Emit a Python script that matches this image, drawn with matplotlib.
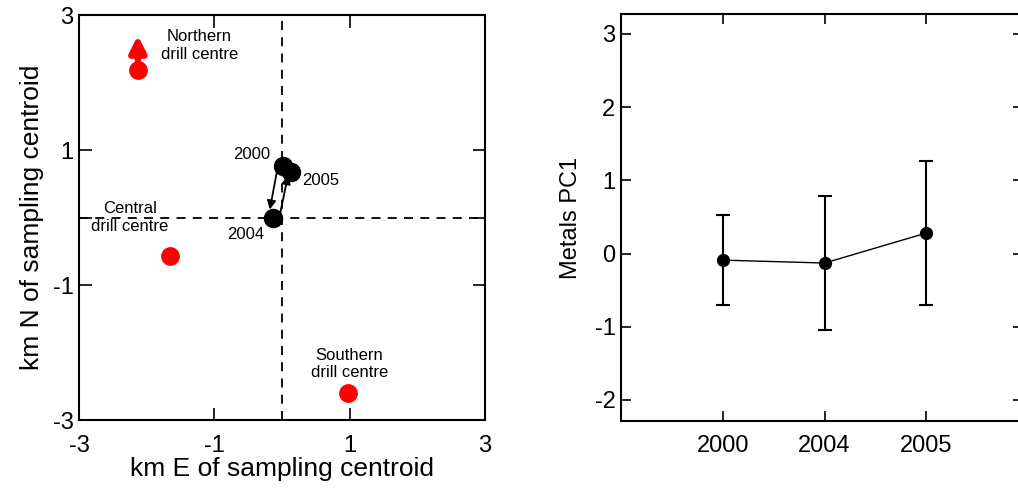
import matplotlib.pyplot as plt

plt.rcParams['font.family'] = ['Liberation Sans', 'DejaVu Sans']
plt.rcParams['axes.unicode_minus'] = False

# left panel: sampling centroid positions (km)
years = ['2000', '2004', '2005']
cent_x = [0.01, -0.13, 0.14]
cent_y = [0.76, 0.0, 0.68]

drill_names = ['Northern\ndrill centre', 'Central\ndrill centre', 'Southern\ndrill centre']
drill_x = [-2.13, -1.66, 0.98]
drill_y = [2.19, -0.57, -2.60]
north_arrow_top = 2.70

# right panel: metals PC1 mean with range
pc1_mean = [-0.09, -0.13, 0.28]
pc1_low = [-0.70, -1.04, -0.71]
pc1_high = [0.53, 0.79, 1.27]

fig = plt.figure(figsize=(10.18, 4.88), dpi=100)
ax1 = fig.add_axes([0.0776, 0.139, 0.3988, 0.830])
ax2 = fig.add_axes([0.610, 0.137, 0.395, 0.834])

# --- left panel
ax1.axvline(0, color='black', ls=(0, (5, 4)), lw=1.3, zorder=1)
ax1.axhline(0, color='black', ls=(0, (5, 4)), lw=1.3, zorder=1)
ax1.plot(drill_x, drill_y, 'o', color='#ff0000', ms=12.5, zorder=3)
ax1.annotate('', xy=(drill_x[0], north_arrow_top), xytext=(drill_x[0], drill_y[0]),
             arrowprops=dict(arrowstyle='-|>', color='#ff0000', lw=4.5,
                             mutation_scale=24, shrinkA=0, shrinkB=0), zorder=3)
ax1.plot(cent_x, cent_y, 'o', color='black', ms=13, zorder=4)
# movement between years
ax1.annotate('', xy=(cent_x[1] - 0.05, cent_y[1] + 0.12), xytext=(cent_x[0] - 0.08, cent_y[0] - 0.05),
             arrowprops=dict(arrowstyle='-|>', color='black', lw=1.3, mutation_scale=13,
                             shrinkA=0, shrinkB=0), zorder=5)
ax1.annotate('', xy=(cent_x[2] - 0.05, cent_y[2] - 0.05), xytext=(cent_x[1] + 0.08, cent_y[1] - 0.05),
             arrowprops=dict(arrowstyle='-|>', color='black', lw=1.3, mutation_scale=13,
                             shrinkA=0, shrinkB=0), zorder=5)

ax1.text(-1.22, 2.55, drill_names[0], ha='center', va='center', fontsize=12)
ax1.text(-2.25, 0.0, drill_names[1], ha='center', va='center', fontsize=12)
ax1.text(1.0, -2.17, drill_names[2], ha='center', va='center', fontsize=12)
ax1.text(-0.45, 0.93, years[0], ha='center', va='center', fontsize=12)
ax1.text(0.57, 0.55, years[2], ha='center', va='center', fontsize=12)
ax1.text(-0.53, -0.25, years[1], ha='center', va='center', fontsize=12)

ax1.set_xlim(-3, 3)
ax1.set_ylim(-3, 3)
ax1.set_xticks([-3, -1, 1, 3])
ax1.set_yticks([-3, -1, 0, 1, 3])
ax1.set_yticklabels(['-3', '-1', '', '1', '3'])
ax1.tick_params(direction='in', top=True, right=True, labelsize=17, length=9, width=1.2)
ax1.tick_params(axis='x', pad=11)
ax1.tick_params(axis='y', pad=4)
ax1.set_xlabel('km E of sampling centroid', fontsize=19, labelpad=0)
ax1.set_ylabel('km N of sampling centroid', fontsize=19, labelpad=6)

# --- right panel
xpos = list(range(len(years)))
yerr = [[m - lo for m, lo in zip(pc1_mean, pc1_low)],
        [hi - m for m, hi in zip(pc1_mean, pc1_high)]]
ax2.errorbar(xpos, pc1_mean, yerr=yerr, fmt='o-', color='black', ms=8.5, lw=1.0,
             elinewidth=1.5, capsize=5, capthick=1.5)
ax2.set_xlim(-1, 2.95)
ax2.set_ylim(-2.29, 3.27)
ax2.set_xticks(xpos)
ax2.set_xticklabels(years)
ax2.set_yticks([-2, -1, 0, 1, 2, 3])
ax2.tick_params(direction='in', top=True, right=True, labelsize=17, length=7.5, width=1.2)
ax2.tick_params(axis='x', pad=10)
ax2.tick_params(axis='y', pad=4)
ax2.set_ylabel('Metals PC1', fontsize=17, labelpad=9)

for ax in (ax1, ax2):
    for s in ax.spines.values():
        s.set_linewidth(1.5)

fig.savefig('out.png', dpi=100)
